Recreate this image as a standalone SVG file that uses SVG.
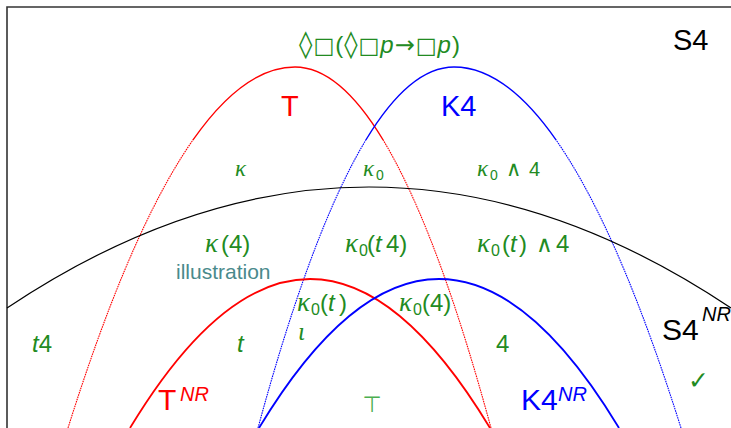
<svg xmlns="http://www.w3.org/2000/svg" width="731" height="428" viewBox="0 0 731 428">
<defs>
<clipPath id="top"><rect x="0" y="0" width="731" height="140"/></clipPath>
<clipPath id="bot"><rect x="0" y="140" width="731" height="288"/></clipPath>
<style>
.t{font-family:"Liberation Sans","DejaVu Sans",sans-serif}
.g{fill:#228b22}
.i{font-style:italic}
.k{font-family:"Liberation Serif","DejaVu Serif",serif;font-style:italic}
.d{font-family:"DejaVu Sans",sans-serif}
.dia{font-family:"DejaVu Sans",sans-serif;font-size:27px}
.box{font-family:"DejaVu Sans",sans-serif;font-size:22px}
.r1{font-size:20px}
.r2{font-size:24px}
.s1{font-size:14px}
.s2{font-size:16px}
.big{font-size:29px}
.sup{font-size:20px;font-style:italic}
.arc{fill:none}
.dot{stroke-width:1.1;stroke-dasharray:1.6 0.8}
.sol{stroke-width:1.4}
</style>
</defs>
<rect width="731" height="428" fill="#fff"/>
<path d="M7,428 V7 H731" fill="none" stroke="#333" stroke-width="1.6"/>

<g id="curves">
<g id="T-big" class="arc" stroke="#ff0000">
<path class="sol" clip-path="url(#top)" d="M68,428 Q181.5,67 295,67 Q393,67 491,428"/>
<path class="dot" clip-path="url(#bot)" d="M68,428 Q181.5,67 295,67 Q393,67 491,428"/>
</g>
<g id="K4-big" class="arc" stroke="#0000ff">
<path class="sol" clip-path="url(#top)" d="M258,428 Q356,67 454,67 Q567.5,67 681,428"/>
<path class="dot" clip-path="url(#bot)" d="M258,428 Q356,67 454,67 Q567.5,67 681,428"/>
</g>
<path id="S4NR-arc" class="arc" stroke="#000" stroke-width="1.2" d="M7,308 Q369,66 731,308"/>
<path id="TNR-arc" class="arc" stroke="#ff0000" stroke-width="1.8" d="M130,428 Q310,130 490,428"/>
<path id="K4NR-arc" class="arc" stroke="#0000ff" stroke-width="1.8" d="M259,428 Q439,130 619,428"/>
</g>

<g id="formula" class="t g" font-size="24">
<text x="380" y="53" text-anchor="middle" letter-spacing="1"><tspan class="dia">◊</tspan><tspan class="box">□</tspan>(<tspan class="dia">◊</tspan><tspan class="box">□</tspan><tspan class="i">p</tspan><tspan class="d" font-size="24">→</tspan><tspan class="box">□</tspan><tspan class="i">p</tspan>)</text>
</g>

<g id="S4"><text class="t big" x="673" y="50" font-size="30">S4</text></g>
<g id="T"><text class="t big" x="281" y="116" fill="#ff0000">T</text></g>
<g id="K4"><text class="t big" x="441" y="116" fill="#0000ff">K4</text></g>

<g id="kappa"><text class="k g" font-size="23" x="235" y="176">κ</text></g>
<g id="kappa0"><text class="t g r1" y="176"><tspan x="363" class="k" font-size="23">κ</tspan><tspan x="376" dy="4" class="s1">0</tspan></text></g>
<g id="kappa0-and-4"><text class="t g r1" y="176"><tspan x="477" class="k" font-size="23">κ</tspan><tspan x="490" dy="4" class="s1">0</tspan><tspan x="506" dy="-4" class="d" font-size="21">∧</tspan><tspan x="529">4</tspan></text></g>

<g id="kappa-4"><text class="t g r2" y="252"><tspan x="205" class="k" font-size="27">κ</tspan><tspan x="221">(4)</tspan></text></g>
<g id="kappa0-t4"><text class="t g r2" y="252"><tspan x="345" class="k" font-size="27">κ</tspan><tspan x="359" dy="4" class="s2">0</tspan><tspan x="367" dy="-4">(</tspan><tspan x="375" class="i">t</tspan><tspan x="386">4)</tspan></text></g>
<g id="kappa0-t-and-4"><text class="t g r2" y="252"><tspan x="477" class="k" font-size="27">κ</tspan><tspan x="491" dy="4" class="s2">0</tspan><tspan x="502" dy="-4">(</tspan><tspan x="510" class="i">t</tspan><tspan x="519">)</tspan><tspan x="536" class="d" font-size="23">∧</tspan><tspan x="556">4</tspan></text></g>
<g id="illustration"><text class="t" x="176" y="279" font-size="21" fill="#4a8a8c">illustration</text></g>

<g id="kappa0-t"><text class="t g r2" y="311"><tspan x="297" class="k" font-size="27">κ</tspan><tspan x="311" dy="4" class="s2">0</tspan><tspan x="320" dy="-4">(</tspan><tspan x="328" class="i">t</tspan><tspan x="339">)</tspan></text></g>
<g id="kappa0-4"><text class="t g r2" y="311"><tspan x="399" class="k" font-size="27">κ</tspan><tspan x="413" dy="4" class="s2">0</tspan><tspan x="422" dy="-4">(4)</tspan></text></g>
<g id="iota"><text class="k g" font-size="25" x="298" y="340">ι</text></g>
<g id="t4"><text class="t g r2" x="32" y="352"><tspan class="i">t</tspan>4</text></g>
<g id="t"><text class="t g r2 i" x="237" y="352">t</text></g>
<g id="four"><text class="t g r2" x="496" y="352">4</text></g>

<g id="S4NR"><text class="t" y="340"><tspan x="662" font-size="30">S4</tspan><tspan x="702" y="321" class="sup">NR</tspan></text></g>
<g id="check"><text x="688" y="389" class="d" font-size="25" fill="#228b22">✓</text></g>
<g id="TNR"><text class="t" y="410" fill="#ff0000"><tspan x="158" font-size="30">T</tspan><tspan x="180" y="401" class="sup">NR</tspan></text></g>
<g id="top-sym"><text x="372" y="412" text-anchor="middle" class="d" font-size="22" fill="#4caf50">⊤</text></g>
<g id="K4NR"><text class="t" y="410" fill="#0000ff"><tspan x="521" font-size="30">K4</tspan><tspan x="558" y="401" class="sup">NR</tspan></text></g>
</svg>
